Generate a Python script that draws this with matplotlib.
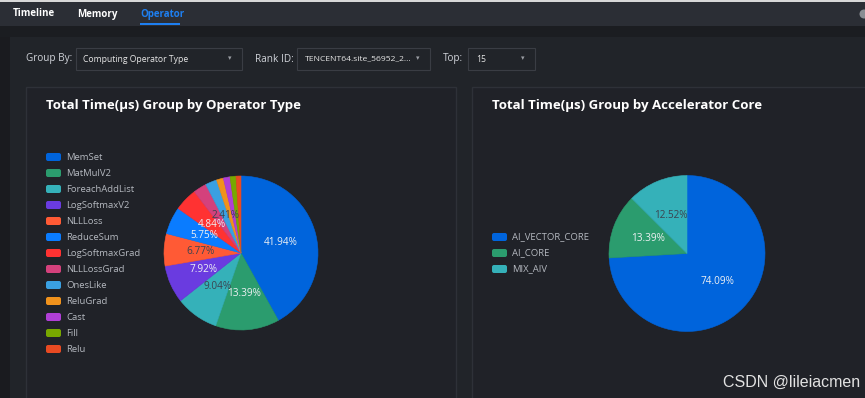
import matplotlib.pyplot as plt
from matplotlib.patches import Circle, FancyBboxPatch, Rectangle

plt.rcParams['font.family'] = ['Open Sans', 'DejaVu Sans']

# data
op_names = ["MemSet", "MatMulV2", "ForeachAddList", "LogSoftmaxV2", "NLLLoss",
            "ReduceSum", "LogSoftmaxGrad", "NLLLossGrad", "OnesLike", "ReluGrad",
            "Cast", "Fill", "Relu"]
op_values = [41.94, 13.39, 9.04, 7.92, 6.77, 5.75, 4.84, 2.80, 2.41, 1.45, 1.40, 1.25, 1.04]
op_colors = ["#0064dc", "#2b9c6e", "#35b1b9", "#6a3be0", "#ff5a35", "#0a7cff",
             "#ff3232", "#d4417c", "#3aa0e2", "#f0921c", "#b03fd6", "#78a800", "#e84a22"]

core_names = ["AI_VECTOR_CORE", "AI_CORE", "MIX_AIV"]
core_values = [74.09, 13.39, 12.52]
core_colors = ["#0064dc", "#2b9c6e", "#35b1b9"]

tabs = ["Timeline", "Memory", "Operator"]
dark_labels = {"ForeachAddList", "NLLLoss", "OnesLike", "MIX_AIV"}
# echarts hides labels that overlap, this one is hidden in the screenshot
hidden_labels = {"NLLLossGrad"}

W, H = 865, 398
fig = plt.figure(figsize=(W / 100, H / 100), dpi=100)
fig.patch.set_facecolor("#22252b")

bg = fig.add_axes([0, 0, 1, 1])
bg.set_xlim(0, W)
bg.set_ylim(H, 0)
bg.axis("off")


def rect(x, y, w, h, fc, ec="none", lw=1):
    bg.add_patch(Rectangle((x, y), w, h, facecolor=fc, edgecolor=ec, linewidth=lw))


# page chrome
rect(0, 0, W, 26, "#2b2e35")
rect(0, 0, W, 2, "#d8d8d8")
rect(0, 26, W, 11, "#1b1d21")
rect(0, 37, 10, H, "#1a1b1f")
rect(10, 37, W, H, "#212429")
bg.add_patch(Circle((864, 14), 4.5, facecolor="#8a8d93", edgecolor="none"))

tab_x = [13, 77, 140]
for name, x in zip(tabs, tab_x):
    col = "#1e7ff0" if name == "Operator" else "white"
    bg.text(x, 14, name, color=col, fontsize=7, fontweight="bold", va="center")
rect(140, 23, 40, 1.5, "#1e7ff0")

# controls row
ctrl_text = "#d0d3d9"
bg.text(26, 59, "Group By:", color=ctrl_text, fontsize=7.2, va="center")
rect(76, 48, 166, 22, "none", "#3a3d44", 0.8)
bg.text(83, 59, "Computing Operator Type", color="#e6e6e6", fontsize=6.2, va="center")
bg.text(230, 59, "▾", color="#9a9da3", fontsize=5, va="center", ha="center")

bg.text(255, 59, "Rank ID:", color=ctrl_text, fontsize=7.2, va="center")
rect(297, 48, 133, 22, "none", "#3a3d44", 0.8)
bg.text(305, 59, "TENCENT64.site_56952_2...", color="#e6e6e6", fontsize=6.1, va="center")
bg.text(418, 59, "▾", color="#9a9da3", fontsize=5, va="center", ha="center")

bg.text(443, 59, "Top:", color=ctrl_text, fontsize=7.2, va="center")
rect(468, 48, 67, 22, "none", "#3a3d44", 0.8)
bg.text(476, 59, "15", color="#e6e6e6", fontsize=6.2, va="center")
bg.text(523, 59, "▾", color="#9a9da3", fontsize=5, va="center", ha="center")

# card panels
rect(26, 87, 430, 330, "#202228", "#2e3138", 1)
rect(472, 87, 420, 330, "#202228", "#2e3138", 1)

bg.text(46, 106, "Total Time(μs) Group by Operator Type", color="white",
        fontsize=9.5, fontweight="bold", va="center")
bg.text(492, 106, "Total Time(μs) Group by Accelerator Core", color="white",
        fontsize=9.5, fontweight="bold", va="center")


def legend(names, colors, x, y0):
    for i, (name, c) in enumerate(zip(names, colors)):
        y = y0 + 16 * i
        bg.add_patch(FancyBboxPatch((x, y - 4), 15, 8,
                                    boxstyle="round,pad=0,rounding_size=2",
                                    facecolor=c, edgecolor="none"))
        bg.text(x + 20, y, name, color="#b4b8bf", fontsize=6.8, va="center")


legend(op_names, op_colors, 46, 157)
legend(core_names, core_colors, 492, 237)


def pie_axes(cx, cy, r):
    a = fig.add_axes([(cx - r) / W, 1 - (cy + r) / H, 2 * r / W, 2 * r / H])
    return a


def draw_pie(a, values, colors, names):
    wedges, texts, autotexts = a.pie(
        values, colors=colors, startangle=90, counterclock=False,
        autopct=lambda p: f"{p:.2f}%" if p > 2.0 else "",
        pctdistance=0.53, textprops=dict(fontsize=7.2),
        wedgeprops=dict(linewidth=0.4))
    for w, c in zip(wedges, colors):
        w.set_edgecolor(c)
    for t, name in zip(autotexts, names):
        t.set_color("#3b4350" if name in dark_labels else "#eef0f3")
        if name in hidden_labels:
            t.set_visible(False)
    a.set_xlim(-1, 1)
    a.set_ylim(-1, 1)
    a.set_aspect("equal")
    a.axis("off")


draw_pie(pie_axes(241, 253, 77), op_values, op_colors, op_names)
draw_pie(pie_axes(687, 253.5, 78), core_values, core_colors, core_names)

bg.text(860, 382, "CSDN @lileiacmen", color="#e2e2e2", fontsize=11.5,
        family=["Liberation Sans", "DejaVu Sans"], ha="right", va="center")

fig.savefig("out.png", dpi=100, facecolor=fig.get_facecolor())
